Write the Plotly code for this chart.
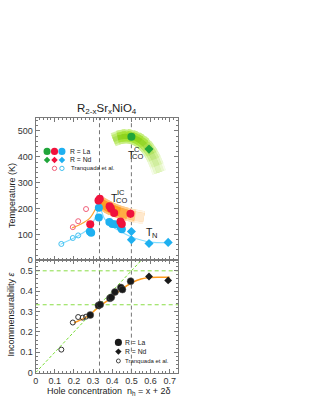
import plotly.graph_objects as go

# ---------------- data ----------------
# Upper panel: transition temperatures vs hole concentration n_h
tcoc_la_x = [0.5]
tcoc_la_T = [478]
tcoc_nd_x = [0.592]
tcoc_nd_T = [430]

tcoic_la_x = [0.285, 0.328, 0.335, 0.386, 0.393, 0.41, 0.443, 0.45, 0.495]
tcoic_la_T = [139, 231, 238, 209, 200, 183, 150, 140, 180]
tcoic_la_err = [0, 0, 0, 8, 0, 0, 10, 0, 16]

tn_la_x = [0.283, 0.29, 0.33, 0.33, 0.385, 0.40, 0.415, 0.443, 0.45]
tn_la_T = [111, 106, 165, 203, 148, 140, 139, 130, 120]
tn_nd_x = [0.5, 0.5, 0.592, 0.692]
tn_nd_T = [111, 79, 65, 69]
tn_nd_err = [10, 10, 0, 0]

tr_co_x = [0.194, 0.222, 0.263]
tr_co_T = [128, 151, 198]
tr_n_x = [0.134, 0.194, 0.222]
tr_n_T = [63, 86, 96]

# guide curves (upper panel)
guide_co_x = [0.19, 0.234, 0.285, 0.32, 0.335]
guide_co_T = [125, 139, 165, 210, 238]
guide_n_x = [0.13, 0.194, 0.222, 0.26, 0.29, 0.315, 0.333, 0.36, 0.40, 0.45, 0.50, 0.55, 0.60, 0.70]
guide_n_T = [62, 84, 95, 112, 135, 170, 205, 160, 130, 108, 90, 78, 70, 68]
band_co_x = [0.34, 0.37, 0.40, 0.44, 0.48, 0.52, 0.565]
band_co_T = [222, 208, 196, 185, 177, 170, 165]
band_c_x = [0.405, 0.428, 0.45, 0.475, 0.5, 0.525, 0.55, 0.572, 0.59, 0.607, 0.62, 0.634, 0.645]
band_c_T = [466, 474, 479, 481, 479, 472, 461, 447, 430, 410, 390, 365, 340]

# Lower panel: incommensurability
eps_la_x = [0.285, 0.328, 0.337, 0.388, 0.395, 0.414, 0.445, 0.453, 0.496]
eps_la = [0.283, 0.330, 0.334, 0.365, 0.370, 0.396, 0.418, 0.408, 0.449]
eps_nd_x = [0.592, 0.692]
eps_nd = [0.472, 0.453]
eps_tr_x = [0.134, 0.194, 0.222, 0.246, 0.263]
eps_tr = [0.113, 0.246, 0.273, 0.270, 0.275]
guide_eps_x = [0.2, 0.25, 0.29, 0.333, 0.37, 0.4, 0.45, 0.5, 0.55, 0.6, 0.65, 0.7]
guide_eps = [0.245, 0.265, 0.29, 0.325, 0.35, 0.372, 0.41, 0.44, 0.46, 0.467, 0.468, 0.468]
diag_x = [0, 0.552]
diag_eps = [0, 0.552]
eps_levels = [1 / 3, 0.5]
ref_nh = [1 / 3, 0.5]

x_ticks = [0, 0.1, 0.2, 0.3, 0.4, 0.5, 0.6, 0.7]
T_ticks = [0, 100, 200, 300, 400, 500]
eps_ticks = [0, 0.1, 0.2, 0.3, 0.4, 0.5]

# ---------------- styling ----------------
W, H = 312, 403
FONT = "Liberation Sans, Arial, sans-serif"
GREEN = "#20a53a"
RED = "#f0123c"
BLUE = "#1eb0f0"
PINK = "#f0607a"
LBLUE = "#40c0f0"
AX = "#7a7a7a"


def px(x):
    return x / W


def py(y):
    return 1 - y / H


def mix(c1, c2, t):
    a = [int(c1[i:i + 2], 16) for i in (1, 3, 5)]
    b = [int(c2[i:i + 2], 16) for i in (1, 3, 5)]
    return "#" + "".join("{:02x}".format(round(a[k] + (b[k] - a[k]) * t)) for k in range(3))


def fade(n, start, end, c_full, c_pale):
    out = []
    for i in range(n):
        t = i / max(n - 1, 1)
        if start > 0 and t <= start:
            out.append(mix(c_pale, c_full, 0.6 + 0.4 * t / start))
        elif t < end:
            out.append(c_full)
        else:
            out.append(mix(c_full, c_pale, (t - end) / (1 - end)))
    return out


fig = go.Figure()


def band(xs, ys, colors, width):
    n = len(xs)
    for i in range(n - 1):
        j = min(i + 3, n)
        fig.add_trace(go.Scatter(x=xs[i:j], y=ys[i:j], xaxis="x", yaxis="y", mode="lines",
                                 line=dict(color=colors[i], width=width, shape="linear"),
                                 hoverinfo="skip", showlegend=False))


nc = len(band_c_x) - 1
band(band_c_x, band_c_T, fade(nc, 0.1, 0.5, "#c6ee80", "#f6fcea"), 14)
band(band_c_x, band_c_T, fade(nc, 0.1, 0.5, "#a6e236", "#eaf8d0"), 10)
band(band_c_x, band_c_T, fade(nc, 0.1, 0.5, "#8ed41c", "#e0f4bc"), 5)
no = len(band_co_x) - 1
band(band_co_x, band_co_T, fade(no, 0.0, 0.5, "#ffc275", "#fff4e6"), 13)
band(band_co_x, band_co_T, fade(no, 0.0, 0.5, "#ff9c22", "#ffe8cc"), 9)

# guide lines
fig.add_trace(go.Scatter(x=guide_n_x, y=guide_n_T, xaxis="x", yaxis="y", mode="lines",
                         line=dict(color="#80dcff", width=1.1, shape="spline"), showlegend=False))
fig.add_trace(go.Scatter(x=guide_co_x, y=guide_co_T, xaxis="x", yaxis="y", mode="lines",
                         line=dict(color="#ffa534", width=1.2, shape="spline"), showlegend=False))

# upper markers
fig.add_trace(go.Scatter(x=tr_n_x, y=tr_n_T, xaxis="x", yaxis="y", mode="markers",
                         marker=dict(symbol="circle-open", size=5, color=LBLUE, line=dict(width=1)), showlegend=False))
fig.add_trace(go.Scatter(x=tr_co_x, y=tr_co_T, xaxis="x", yaxis="y", mode="markers",
                         marker=dict(symbol="circle-open", size=5, color=PINK, line=dict(width=1)), showlegend=False))
fig.add_trace(go.Scatter(x=tn_la_x, y=tn_la_T, xaxis="x", yaxis="y", mode="markers",
                         marker=dict(symbol="circle", size=8, color=BLUE), showlegend=False))
fig.add_trace(go.Scatter(x=tn_nd_x, y=tn_nd_T, xaxis="x", yaxis="y", mode="markers",
                         error_y=dict(type="data", array=tn_nd_err, color=BLUE, thickness=1, width=0),
                         marker=dict(symbol="diamond", size=7, color=BLUE), showlegend=False))
fig.add_trace(go.Scatter(x=tcoic_la_x, y=tcoic_la_T, xaxis="x", yaxis="y", mode="markers",
                         error_y=dict(type="data", array=tcoic_la_err, color=RED, thickness=1, width=0),
                         marker=dict(symbol="circle", size=8, color=RED), showlegend=False))
fig.add_trace(go.Scatter(x=tcoc_la_x, y=tcoc_la_T, xaxis="x", yaxis="y", mode="markers",
                         marker=dict(symbol="circle", size=8, color=GREEN), showlegend=False))
fig.add_trace(go.Scatter(x=tcoc_nd_x, y=tcoc_nd_T, xaxis="x", yaxis="y", mode="markers",
                         marker=dict(symbol="diamond", size=7, color=GREEN), showlegend=False))

# lower panel
fig.add_trace(go.Scatter(x=diag_x, y=diag_eps, xaxis="x2", yaxis="y2", mode="lines",
                         line=dict(color="#77dd33", width=1, dash="3px,2px"), showlegend=False))
fig.add_trace(go.Scatter(x=guide_eps_x, y=guide_eps, xaxis="x2", yaxis="y2", mode="lines",
                         line=dict(color="#ff9a1e", width=1.5, shape="spline"), showlegend=False))
fig.add_trace(go.Scatter(x=eps_tr_x, y=eps_tr, xaxis="x2", yaxis="y2", mode="markers",
                         marker=dict(symbol="circle-open", size=5, color="#333333", line=dict(width=1)), showlegend=False))
fig.add_trace(go.Scatter(x=eps_la_x, y=eps_la, xaxis="x2", yaxis="y2", mode="markers",
                         marker=dict(symbol="circle", size=7, color="#1a1a1a", line=dict(color="#555", width=0.5)),
                         showlegend=False))
fig.add_trace(go.Scatter(x=eps_nd_x, y=eps_nd, xaxis="x2", yaxis="y2", mode="markers",
                         marker=dict(symbol="diamond", size=6, color="#1a1a1a"), showlegend=False))

shapes = []
for v in ref_nh:
    shapes.append(dict(type="line", xref="x", yref="y domain", x0=v, x1=v, y0=0, y1=1,
                       line=dict(color="#666666", width=0.9, dash="4px,3px"), layer="below"))
    shapes.append(dict(type="line", xref="x2", yref="y2 domain", x0=v, x1=v, y0=0, y1=1,
                       line=dict(color="#666666", width=0.9, dash="4px,3px"), layer="below"))
for e in eps_levels:
    shapes.append(dict(type="line", xref="x2 domain", yref="y2", x0=0, x1=1, y0=e, y1=e,
                       line=dict(color="#88dd44", width=1, dash="4px,3px"), layer="below"))


# legend symbols
def circ(cx, cy, r, fill, line=None, lw=0):
    shapes.append(dict(type="circle", xref="paper", yref="paper",
                       x0=px(cx - r), x1=px(cx + r), y0=py(cy + r), y1=py(cy - r),
                       fillcolor=fill, line=dict(color=line or fill, width=lw)))


def diam(cx, cy, r, fill):
    path = "M {} {} L {} {} L {} {} L {} {} Z".format(px(cx), py(cy - r), px(cx + r), py(cy),
                                                       px(cx), py(cy + r), px(cx - r), py(cy))
    shapes.append(dict(type="path", xref="paper", yref="paper", path=path, fillcolor=fill,
                       line=dict(color=fill, width=0)))


for cx, c in zip([44.5, 52, 59.5], [GREEN, RED, BLUE]):
    circ(cx, 153.3, 3.6, c)
    diam(cx, 162, 3.3, c)
circ(52, 170.5, 2.2, "rgba(0,0,0,0)", PINK, 1)
circ(59.5, 170.5, 2.2, "rgba(0,0,0,0)", LBLUE, 1)
circ(116.5, 346.7, 3.6, "#1a1a1a")
diam(116.5, 356, 3.2, "#1a1a1a")
circ(116.5, 365.5, 2.0, "rgba(0,0,0,0)", "#333", 0.9)

ann = []


def text(t, x, y, size, xanchor="center", angle=0, color="#222"):
    ann.append(dict(text=t, xref="paper", yref="paper", x=px(x), y=py(y), xanchor=xanchor,
                    yanchor="middle", showarrow=False, textangle=angle,
                    font=dict(family=FONT, size=size, color=color)))


text("R = La", 65.5, 153.3, 6.8, "left")
text("R = Nd", 65.5, 162, 6.8, "left")
text("Tranquada et al.", 66.5, 170.5, 6, "left")
text("R = La", 121, 346.7, 6.8, "left")
text("R = Nd", 121, 356, 6.8, "left")
text("Tranquada et al.", 121, 365.5, 6, "left")

text("R<sub>2-x</sub>Sr<sub>x</sub>NiO<sub>4</sub>", 105, 110, 11.5)
text("Temperature (K)", 8.5, 198, 9, angle=-90)
text("Incommensurability <i>ε</i>", 8.5, 318, 9, angle=-90)
text("Hole concentration  n<sub>h</sub> = x + 2δ", 107.5, 396.5, 9)

text("T", 129.3, 156.5, 10.5)
text("C", 135.5, 151, 7.5)
text("CO", 136, 158.8, 7.5)
text("T", 112.3, 200.3, 10.5)
text("IC", 119, 194.5, 7.5)
text("CO", 120, 202.8, 7.5)
text("T", 147.8, 235.3, 10.5)
text("N", 153.3, 238.3, 7.5)

xd = [px(33), px(177)]
common_x = dict(domain=xd, range=[0, 0.745], tickvals=x_ticks, ticks="inside", ticklen=4,
                tickcolor=AX, showline=True, linecolor=AX, linewidth=1, mirror="ticks",
                showgrid=False, zeroline=False,
                minor=dict(dtick=0.02, ticks="inside", ticklen=2, tickcolor=AX, showgrid=False),
                tickfont=dict(family=FONT, size=9, color="#333"))
fig.update_layout(
    width=W, height=H, margin=dict(l=0, r=0, t=0, b=0),
    paper_bgcolor="white", plot_bgcolor="rgba(0,0,0,0)",
    showlegend=False,
    xaxis=dict(common_x, anchor="y", showticklabels=False),
    xaxis2=dict(common_x, anchor="y2", showticklabels=True,
                ticktext=["0", "0.1", "0.2", "0.3", "0.4", "0.5", "0.6", "0.7"]),
    yaxis=dict(domain=[py(263.5), py(119.3)], range=[0, 551], tickvals=T_ticks, anchor="x",
               ticks="inside", ticklen=4, tickcolor=AX, showline=True, linecolor=AX, linewidth=1,
               mirror="ticks", showgrid=False, zeroline=False,
               minor=dict(dtick=20, ticks="inside", ticklen=2, tickcolor=AX, showgrid=False),
               tickfont=dict(family=FONT, size=9, color="#333")),
    yaxis2=dict(domain=[py(377.3), py(263.5)], range=[0, 0.552], tickvals=eps_ticks, anchor="x2",
                ticktext=["0", "0.1", "0.2", "0.3", "0.4", "0.5"],
                ticks="inside", ticklen=4, tickcolor=AX, showline=True, linecolor=AX, linewidth=1,
                mirror="ticks", showgrid=False, zeroline=False,
                minor=dict(dtick=0.02, ticks="inside", ticklen=2, tickcolor=AX, showgrid=False),
                tickfont=dict(family=FONT, size=9, color="#333")),
    shapes=shapes, annotations=ann,
)

fig.write_html("out.html", config={"displayModeBar": False},
               post_script="document.body.style.margin='0';document.body.style.padding='0';")
